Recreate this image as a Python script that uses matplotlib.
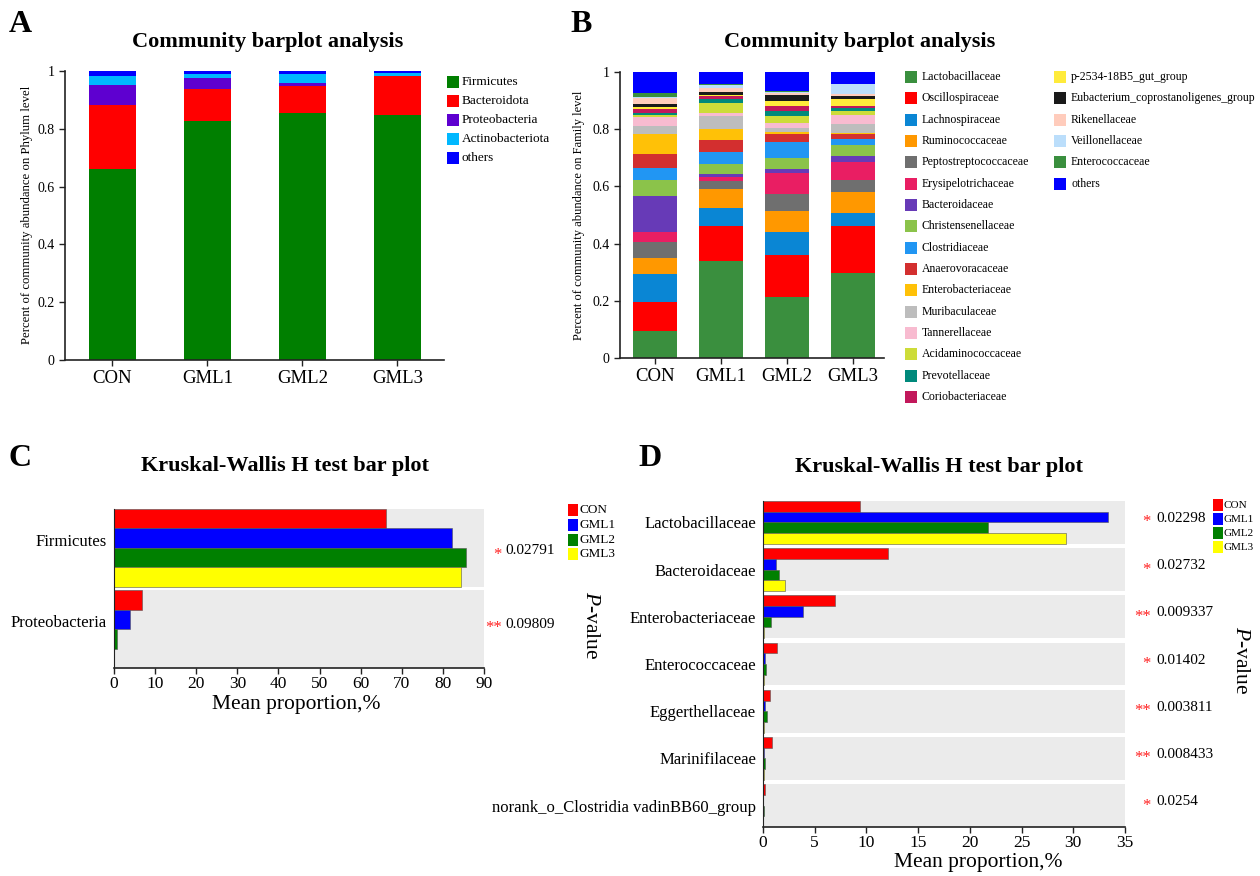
import matplotlib
matplotlib.use("Agg")
import matplotlib.pyplot as plt
import numpy as np
from matplotlib.patches import Rectangle

plt.rcParams['font.family'] = ['Liberation Serif', 'DejaVu Serif']
plt.rcParams['mathtext.fontset'] = 'custom'
plt.rcParams['mathtext.rm'] = 'Liberation Serif'
plt.rcParams['mathtext.it'] = 'Liberation Serif:italic'

# ---------------- data ----------------
groups = ["CON", "GML1", "GML2", "GML3"]

phyla = ["Firmicutes", "Bacteroidota", "Proteobacteria", "Actinobacteriota", "others"]
phylum_colors = ["#007f00", "#ff0000", "#5e00d0", "#00b8ff", "#0000ff"]
phylum_CON = [0.660, 0.222, 0.070, 0.032, 0.016]
phylum_GML1 = [0.827, 0.111, 0.038, 0.012, 0.012]
phylum_GML2 = [0.856, 0.092, 0.009, 0.033, 0.010]
phylum_GML3 = [0.847, 0.135, 0.002, 0.008, 0.008]

families = ["Lactobacillaceae", "Oscillospiraceae", "Lachnospiraceae", "Ruminococcaceae",
            "Peptostreptococcaceae", "Erysipelotrichaceae", "Bacteroidaceae",
            "Christensenellaceae", "Clostridiaceae", "Anaerovoracaceae",
            "Enterobacteriaceae", "Muribaculaceae", "Tannerellaceae",
            "Acidaminococcaceae", "Prevotellaceae", "Coriobacteriaceae",
            "p-2534-18B5_gut_group", "Eubacterium_coprostanoligenes_group",
            "Rikenellaceae", "Veillonellaceae", "Enterococcaceae", "others"]
family_colors = ["#3a8f3e", "#ff0000", "#0a86d4", "#ff9800", "#6f6f6f", "#e91e63",
                 "#673ab7", "#8bc34a", "#2196f3", "#d32f2f", "#ffc107", "#bdbdbd",
                 "#f8bbd0", "#cddc39", "#00897b", "#c2185b", "#ffeb3b", "#1a1a1a",
                 "#ffccbc", "#bbdefb", "#3a8f3e", "#0000ff"]
family_CON = [0.093, 0.102, 0.097, 0.058, 0.055, 0.037, 0.125, 0.054, 0.045, 0.047, 0.070,
              0.027, 0.031, 0.007, 0.007, 0.017, 0.005, 0.010, 0.023, 0.003, 0.014, 0.073]
family_GML1 = [0.340, 0.123, 0.061, 0.067, 0.027, 0.014, 0.013, 0.034, 0.043, 0.040, 0.038,
               0.045, 0.012, 0.035, 0.013, 0.010, 0.006, 0.010, 0.014, 0.010, 0.004, 0.041]
family_GML2 = [0.213, 0.146, 0.081, 0.073, 0.061, 0.073, 0.015, 0.039, 0.054, 0.028, 0.006,
               0.015, 0.018, 0.023, 0.017, 0.020, 0.018, 0.018, 0.008, 0.003, 0.003, 0.068]
family_GML3 = [0.297, 0.166, 0.044, 0.075, 0.039, 0.064, 0.020, 0.041, 0.021, 0.017, 0.003,
               0.032, 0.029, 0.014, 0.012, 0.006, 0.027, 0.008, 0.008, 0.034, 0.002, 0.041]

group_colors = ["#ff0000", "#0000ff", "#008000", "#ffff00"]

kw_phylum = ["Firmicutes", "Proteobacteria"]
kwp_CON = [66.2, 6.9]
kwp_GML1 = [82.2, 3.8]
kwp_GML2 = [85.5, 0.8]
kwp_GML3 = [84.4, 0.1]
kwp_pvalue = ["0.02791", "0.09809"]
kwp_stars = ["*", "**"]

kw_family = ["Lactobacillaceae", "Bacteroidaceae", "Enterobacteriaceae", "Enterococcaceae",
             "Eggerthellaceae", "Marinifilaceae", "norank_o_Clostridia vadinBB60_group"]
kwf_CON = [9.4, 12.1, 7.0, 1.4, 0.7, 0.9, 0.15]
kwf_GML1 = [33.4, 1.3, 3.9, 0.2, 0.2, 0.1, 0.03]
kwf_GML2 = [21.8, 1.5, 0.8, 0.25, 0.4, 0.2, 0.1]
kwf_GML3 = [29.3, 2.1, 0.1, 0.05, 0.05, 0.05, 0.03]
kwf_pvalue = ["0.02298", "0.02732", "0.009337", "0.01402", "0.003811", "0.008433", "0.0254"]
kwf_stars = ["*", "*", "**", "*", "**", "**", "*"]

# ---------------- layout helpers ----------------
W, H = 1260, 876
fig = plt.figure(figsize=(W / 100, H / 100), dpi=100)


def rect(l, t, r, b):
    return [l / W, 1 - b / H, (r - l) / W, (b - t) / H]


def ftext(x, y, s, **kw):
    return fig.text(x / W, 1 - y / H, s, **kw)


def fbox(x, y, w, h, color):
    fig.add_artist(Rectangle((x / W, 1 - (y + h) / H), w / W, h / H,
                             transform=fig.transFigure, facecolor=color,
                             edgecolor='none'))


AXC = "#222222"


def style_axes(ax):
    for s in ["top", "right"]:
        ax.spines[s].set_visible(False)
    for s in ["left", "bottom"]:
        ax.spines[s].set_color(AXC)
        ax.spines[s].set_linewidth(1.2)
    ax.tick_params(direction="out", color=AXC, width=1.0, length=4)


def stacked(ax, data_by_group, colors, width):
    vals = np.array(data_by_group).T  # taxa x groups
    x = np.arange(len(groups))
    bottom = np.zeros(len(groups))
    for k in range(vals.shape[0]):
        ax.bar(x, vals[k], width=width, bottom=bottom, color=colors[k],
               edgecolor="none", zorder=2)
        bottom += vals[k]
    ax.set_xticks(x)
    ax.set_xticklabels(groups, fontsize=13.5)
    ax.set_ylim(0, 1)
    ax.set_yticks([0, 0.2, 0.4, 0.6, 0.8, 1.0])
    ax.set_yticklabels(["0", "0.2", "0.4", "0.6", "0.8", "1"], fontsize=10)
    style_axes(ax)
    ax.tick_params(axis="x", pad=3)


# ---------------- Panel A ----------------
axA = fig.add_axes(rect(65, 71, 444, 360))
stacked(axA, [phylum_CON, phylum_GML1, phylum_GML2, phylum_GML3], phylum_colors, 0.495)
axA.set_xlim(-0.5, 3.49)
ftext(27, 215, "Percent of community abundance on Phylum level", rotation=90,
      ha="center", va="center", fontsize=9.2)
ftext(268, 42, "Community barplot analysis", ha="center", va="center",
      fontsize=16, fontweight="bold")
ftext(9, 24, "A", ha="left", va="center", fontsize=23, fontweight="bold")
for k, name in enumerate(phyla):
    y = 82 + k * 19
    fbox(447, y - 6, 12, 12, phylum_colors[k])
    ftext(462, y, name, ha="left", va="center", fontsize=9.5)

# ---------------- Panel B ----------------
axB = fig.add_axes(rect(620, 72, 884, 358))
stacked(axB, [family_CON, family_GML1, family_GML2, family_GML3], family_colors, 0.67)
axB.set_xlim(-0.533, 3.47)
ftext(579, 215, "Percent of community abundance on Family level", rotation=90,
      ha="center", va="center", fontsize=9)
ftext(860, 42, "Community barplot analysis", ha="center", va="center",
      fontsize=16, fontweight="bold")
ftext(570, 24, "B", ha="left", va="center", fontsize=23, fontweight="bold")
for k, name in enumerate(families):
    if k < 16:
        x0, y = 905, 77 + k * 21.33
    else:
        x0, y = 1054, 77 + (k - 16) * 21.33
    fbox(x0, y - 6, 12, 12, family_colors[k])
    ftext(x0 + 17, y, name, ha="left", va="center", fontsize=8.5)


# ---------------- Kruskal-Wallis panels ----------------
def kw_panel(ax, cats, series, bf, xmax, xstep, label_shift):
    n = len(cats)
    for i in range(n):
        ax.axhspan(i, i + bf, color="#ebebeb", zorder=0, lw=0)
    for j, vals in enumerate(series):
        ys = [i + (j + 0.5) * bf / 4 for i in range(n)]
        ax.barh(ys, vals, height=bf / 4, color=group_colors[j],
                edgecolor="#555555", linewidth=0.4, zorder=2)
    ax.set_ylim(n - 1 + bf, 0)
    ax.set_xlim(0, xmax)
    ticks = np.arange(0, xmax + 0.1, xstep)
    ax.set_xticks(ticks)
    ax.set_xticklabels([str(int(v)) for v in ticks], fontsize=12.5)
    ax.set_yticks([i + bf / 2 - label_shift for i in range(n)])
    ax.set_yticklabels(cats, fontsize=12)
    style_axes(ax)
    ax.spines["left"].set_linewidth(0.8)
    ax.tick_params(axis="y", length=0, pad=5)
    ax.tick_params(axis="x", pad=2)
    ax.patch.set_alpha(0)


def manual_legend(x0, y0, step, fs, gap):
    for j, g in enumerate(groups):
        y = y0 + j * step
        fbox(x0, y - 6, 10, 12, group_colors[j])
        ftext(x0 + gap, y, g, ha="left", va="center", fontsize=fs)


# Panel C
axC = fig.add_axes(rect(114, 509, 484, 668))
kw_panel(axC, kw_phylum, [kwp_CON, kwp_GML1, kwp_GML2, kwp_GML3], 0.952, 90, 10, 0.1)
ftext(296, 705, "Mean proportion,%", ha="center", va="center", fontsize=15.5)
ftext(285, 466, "Kruskal-Wallis H test bar plot", ha="center", va="center",
      fontsize=16, fontweight="bold")
ftext(9, 458, "C", ha="left", va="center", fontsize=23, fontweight="bold")
for i, (pv, st) in enumerate(zip(kwp_pvalue, kwp_stars)):
    y = [551, 624][i]
    ftext(502, y + 4, st, ha="right", va="center", fontsize=12, color="#ff2020")
    ftext(505, y, pv, ha="left", va="center", fontsize=11)
manual_legend(568, 510, 14.8, 9.5, 12)
ftext(590, 625, "$P$-value", rotation=270, ha="center", va="center", fontsize=15.5)

# Panel D
axD = fig.add_axes(rect(763, 501, 1125, 827))
kw_panel(axD, kw_family, [kwf_CON, kwf_GML1, kwf_GML2, kwf_GML3], 0.906, 35, 5, 0.0)
ftext(978, 862, "Mean proportion,%", ha="center", va="center", fontsize=15.5)
ftext(939, 467, "Kruskal-Wallis H test bar plot", ha="center", va="center",
      fontsize=16, fontweight="bold")
ftext(638, 458, "D", ha="left", va="center", fontsize=23, fontweight="bold")
period = (827 - 501) / (len(kw_family) - 1 + 0.906)
for i, (pv, st) in enumerate(zip(kwf_pvalue, kwf_stars)):
    y = 501 + (i + 0.906 / 2) * period - 4
    ftext(1151, y + 4, st, ha="right", va="center", fontsize=12, color="#ff2020")
    ftext(1156, y, pv, ha="left", va="center", fontsize=11)
manual_legend(1213, 505, 14, 8.0, 11)
ftext(1240, 660, "$P$-value", rotation=270, ha="center", va="center", fontsize=15.5)

fig.savefig("out.png", dpi=100, facecolor="white")
